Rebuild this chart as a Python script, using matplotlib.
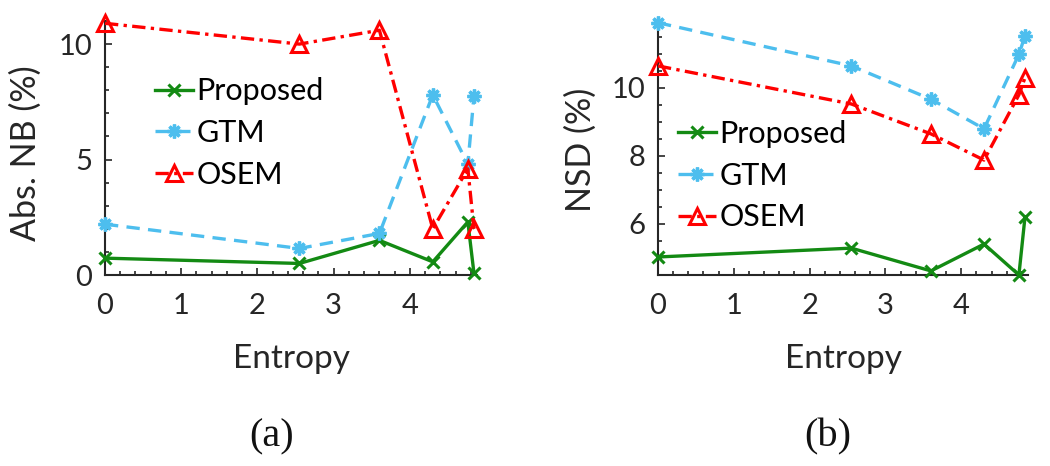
import matplotlib
matplotlib.use("Agg")
import matplotlib.pyplot as plt
from matplotlib.ticker import MultipleLocator

# ---- data ----
entropy = [0, 2.55, 3.6, 4.3, 4.76, 4.84]
nb_proposed = [0.73, 0.5, 1.5, 0.57, 2.3, 0.08]
nb_gtm = [2.2, 1.15, 1.8, 7.8, 4.8, 7.75]
nb_osem = [10.9, 10.0, 10.6, 2.0, 4.6, 2.0]
nsd_proposed = [5.03, 5.29, 4.62, 5.41, 4.5, 6.2]
nsd_gtm = [11.92, 10.65, 9.67, 8.8, 10.99, 11.53]
nsd_osem = [10.65, 9.53, 8.65, 7.88, 9.8, 10.3]
series_names = ["Proposed", "GTM", "OSEM"]
x_ticks = [0, 1, 2, 3, 4]
nb_yticks = [0, 5, 10]
nsd_yticks = [6, 8, 10]

plt.rcParams['font.family'] = ['Lato', 'DejaVu Sans']
GREEN = '#138a13'
BLUE = '#4DBEEE'
RED = '#FF0000'
AX = '#262626'

fig = plt.figure(figsize=(10.5, 4.66), dpi=100)
W, H = 1050, 466
axa = fig.add_axes([105 / W, (H - 275) / H, 372 / W, 254 / H])
axb = fig.add_axes([658 / W, (H - 275) / H, 370 / W, 255 / H])


def draw(ax, prop, gtm, osem):
    ax.plot(entropy, prop, '-', color=GREEN, lw=2.4, marker='x', ms=8, mew=2.2,
            label=series_names[0], clip_on=False, zorder=3)
    ax.plot(entropy, gtm, '--', color=BLUE, lw=2.4, marker=(8, 2, 0), ms=10, mew=2.4,
            dashes=(4, 2.5), label=series_names[1], clip_on=False, zorder=3)
    ax.plot(entropy, osem, '-.', color=RED, lw=2.4, marker='^', ms=12, mew=2.2,
            mfc='none', dashes=(4, 1.6, 1, 1.6), label=series_names[2], clip_on=False, zorder=3)
    for s in ['top', 'right']:
        ax.spines[s].set_visible(False)
    for s in ['left', 'bottom']:
        ax.spines[s].set_color(AX)
        ax.spines[s].set_linewidth(1.5)
    ax.set_xlim(0, 4.88)
    ax.set_xticks(x_ticks)
    ax.xaxis.set_minor_locator(MultipleLocator(0.2))
    ax.tick_params(which='both', direction='in', colors=AX, labelsize=21, width=1.2)
    ax.tick_params(which='major', length=5)
    ax.tick_params(which='minor', length=3)
    ax.tick_params(axis='x', pad=13)
    ax.tick_params(axis='y', pad=9)
    ax.set_xlabel("Entropy", fontsize=24, color=AX)
    ax.xaxis.set_label_coords(0.5, -0.27)


draw(axa, nb_proposed, nb_gtm, nb_osem)
axa.set_ylim(0, 11)
axa.set_yticks(nb_yticks)
axa.yaxis.set_minor_locator(MultipleLocator(1))
axa.set_ylabel("Abs. NB (%)", fontsize=24.5, color=AX)
axa.yaxis.set_label_coords(-0.17, 0.48)
axa.legend(loc='upper left', bbox_to_anchor=(0.135, 0.778), frameon=False, fontsize=22,
           handlelength=1.25, handletextpad=0.1, labelspacing=0.45, borderpad=0,
           borderaxespad=0)

draw(axb, nsd_proposed, nsd_gtm, nsd_osem)
axb.set_ylim(4.5, 12)
axb.set_yticks(nsd_yticks)
axb.yaxis.set_minor_locator(MultipleLocator(0.5))
axb.set_ylabel("NSD (%)", fontsize=24.5, color=AX)
axb.yaxis.set_label_coords(-0.165, 0.49)
axb.legend(loc='upper left', bbox_to_anchor=(0.054, 0.608), frameon=False, fontsize=22,
           handlelength=1.25, handletextpad=0.1, labelspacing=0.45, borderpad=0,
           borderaxespad=0)

fig.text(272 / W, 1 - 437 / H, "(a)", family='Liberation Serif', fontsize=29,
         ha='center', va='center', color='#111111')
fig.text(828 / W, 1 - 437 / H, "(b)", family='Liberation Serif', fontsize=29,
         ha='center', va='center', color='#111111')

fig.savefig("out.png", dpi=100)
